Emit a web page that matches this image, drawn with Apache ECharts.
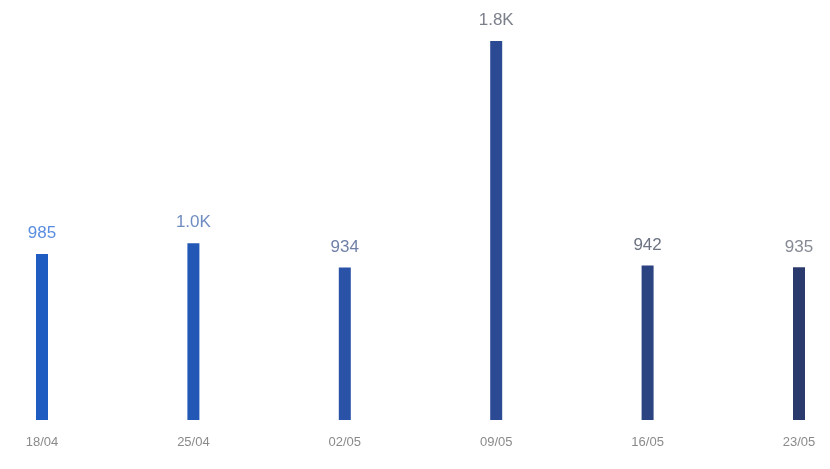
<!DOCTYPE html>
<html><head><meta charset="utf-8">
<script src="https://cdn.jsdelivr.net/npm/echarts@6/dist/echarts.min.js"></script>
<style>html,body{margin:0;padding:0;background:#fff}#c{width:830px;height:469px}</style>
</head><body><div id="c"></div>
<script>
const categories = ['18/04','25/04','02/05','09/05','16/05','23/05'];
const values = [985, 1025, 934, 1780, 942, 935];
const barColors = ['#1f5cc2','#2257b6','#2a52a7','#2c4a94','#2c4382','#2b3a6c'];
const labelColors = ['#5a8de0','#6f8cc2','#6f7fa6','#7a7f8a','#6c7282','#868a94'];

function fmt(v){ return v >= 1000 ? (v/1000).toFixed(1)+'K' : String(v); }

const chart = echarts.init(document.getElementById('c'));
chart.setOption({
  animation:false,
  grid:{left:42, right:31, top:41, bottom:49},
  xAxis:{type:'category', data:categories, boundaryGap:false,
    axisLine:{show:false}, axisTick:{show:false},
    axisLabel:{color:'#8a8a8a', fontSize:13, margin:16, fontFamily:'Liberation Sans'}},
  yAxis:{type:'value', min:365, max:1780, show:false, splitLine:{show:false}},
  series:[{type:'bar', barWidth:12,
    data: values.map((v,i)=>({value:v, itemStyle:{color:barColors[i]}, label:{color:labelColors[i]}})),
    label:{show:true, position:'top', distance:12, fontSize:17, fontFamily:'Liberation Sans',
      formatter:p=>fmt(p.value)}
  }]
});
</script></body></html>
